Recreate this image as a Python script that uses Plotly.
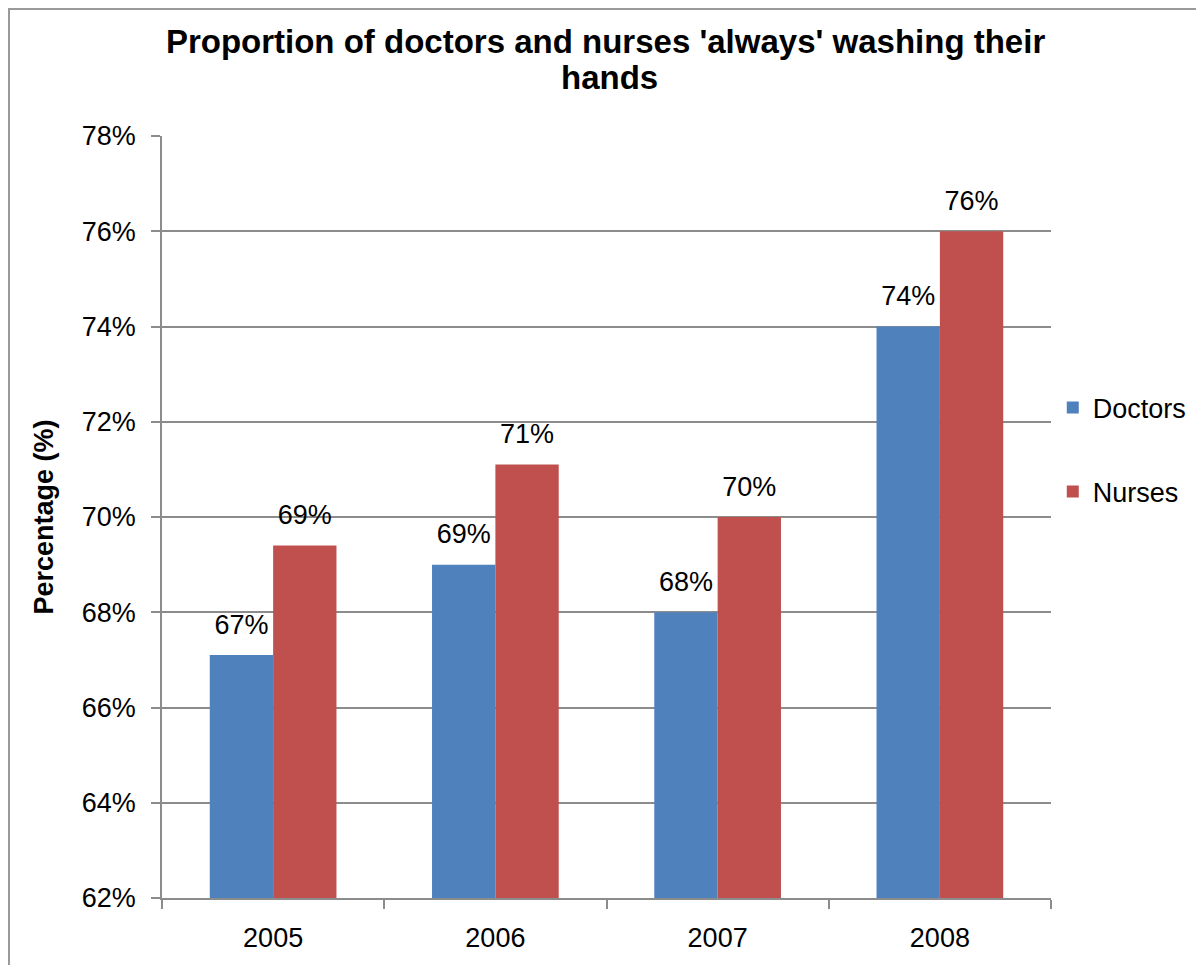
import plotly.graph_objects as go

# data
years = ["2005", "2006", "2007", "2008"]
doctors = [67.1, 69.0, 68.0, 74.0]
nurses = [69.4, 71.1, 70.0, 76.0]
doctors_labels = ["67%", "69%", "68%", "74%"]
nurses_labels = ["69%", "71%", "70%", "76%"]

font = "Liberation Sans, Arial, sans-serif"
grid = "#8c8c8c"
gap = 0.43

fig = go.Figure()
fig.add_trace(go.Bar(x=years, y=doctors, name="Doctors", legendgroup="d",
                     offsetgroup="d", marker=dict(color="#4F81BD", line=dict(width=0))))
fig.add_trace(go.Bar(x=years, y=nurses, name="Nurses", legendgroup="n",
                     offsetgroup="n", marker=dict(color="#C0504D", line=dict(width=0))))

# value labels sit a bit above the bars, like in Excel
for vals, labels, grp in [(doctors, doctors_labels, "d"), (nurses, nurses_labels, "n")]:
    fig.add_trace(go.Scatter(x=years, y=vals, text=labels, mode="markers+text",
                             textposition="top center", offsetgroup=grp,
                             marker=dict(size=22, opacity=0),
                             textfont=dict(size=27, color="#000000"),
                             showlegend=False, cliponaxis=False, hoverinfo="skip"))

fig.update_layout(
    width=1188, height=957,
    margin=dict(l=154, r=145, t=128, b=67, autoexpand=False),
    paper_bgcolor="white", plot_bgcolor="white",
    font=dict(family=font, size=27, color="#000000"),
    title=dict(text="<b>Proportion of doctors and nurses 'always' washing their</b>",
               x=0.503, xanchor="center", y=0.9655, yanchor="middle",
               font=dict(size=33, family=font, color="#000000")),
    annotations=[dict(text="<b>hands</b>", xref="paper", yref="paper",
                      x=0.503, y=1.077, xanchor="center", yanchor="middle",
                      showarrow=False, font=dict(size=33, color="#000000"))],
    barmode="group", bargap=gap, bargroupgap=0,
    scattermode="group", scattergap=gap,
    showlegend=True,
    legend=dict(x=1.002, xanchor="left", y=0.588, yanchor="middle",
                font=dict(size=27), tracegroupgap=46,
                bgcolor="rgba(0,0,0,0)"),
    xaxis=dict(showline=True, linecolor=grid, linewidth=1.5,
               ticks="outside", tickson="boundaries", ticklen=9,
               tickcolor=grid, tickwidth=1.5, showgrid=False,
               ticklabelstandoff=15, tickfont=dict(size=27)),
    yaxis=dict(range=[62, 78], dtick=2, ticksuffix="%",
               showline=True, linecolor=grid, linewidth=1.5,
               ticks="outside", ticklen=9, tickcolor=grid, tickwidth=1.5,
               showgrid=True, gridcolor=grid, gridwidth=1.5,
               zeroline=False, ticklabelstandoff=10, tickfont=dict(size=27),
               title=dict(text="<b>Percentage (%)</b>", font=dict(size=27),
                          standoff=20)),
    shapes=[dict(type="rect", xref="paper", yref="paper",
                 x0=-0.1721, x1=2, y0=-1, y1=1.1667,
                 line=dict(color="#9a9a9a", width=2))],
)

fig.write_html("out.html")
